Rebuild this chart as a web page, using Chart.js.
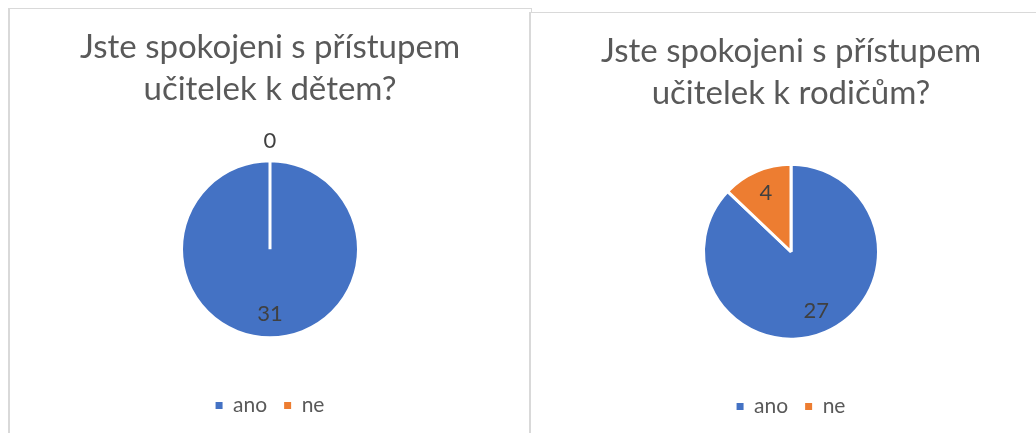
<!DOCTYPE html>
<html lang="cs">
<head>
<meta charset="utf-8">
<script src="https://cdn.jsdelivr.net/npm/chart.js@4.4.1/dist/chart.umd.min.js"></script>
<style>
  html, body { margin: 0; padding: 0; background: #fff; width: 1036px; height: 433px; overflow: hidden; }
  .panel { position: absolute; width: 524px; height: 440px; border: 1px solid #d9d9d9; border-left-width: 2px; background: #fff; box-sizing: border-box; }
  #panel1 { left: 8px; top: 8px; }
  #panel2 { left: 529px; top: 12px; }
  .panel canvas { position: absolute; left: 0; top: 0; }
</style>
</head>
<body>
<div class="panel" id="panel1"><canvas id="myChart1" width="520" height="417"></canvas></div>
<div class="panel" id="panel2"><canvas id="myChart2" width="520" height="414"></canvas></div>
<script>
const kategorie = ["ano", "ne"];
const hodnotyDeti = [31, 0];
const hodnotyRodice = [27, 4];
const barvy = ["#4472C4", "#ED7D31"];
const titulekDeti = ["Jste spokojeni s přístupem", "učitelek k dětem?"];
const titulekRodice = ["Jste spokojeni s přístupem", "učitelek k rodičům?"];

// Popisky hodnot (jako datalabels v Excelu)
const popiskyPlugin = {
  id: "popisky",
  afterDatasetsDraw(chart) {
    const ctx = chart.ctx;
    const meta = chart.getDatasetMeta(0);
    const data = chart.data.datasets[0].data;
    ctx.save();
    ctx.font = "22px Lato";
    ctx.fillStyle = "#404040";
    ctx.textAlign = "center";
    ctx.textBaseline = "middle";
    meta.data.forEach((arc, i) => {
      const p = arc.getProps(["x", "y", "startAngle", "endAngle", "outerRadius"], true);
      const stred = (p.startAngle + p.endAngle) / 2;
      // nulova hodnota jde ven z kolace
      const r = data[i] === 0 ? p.outerRadius + 20 : p.outerRadius * 0.73;
      ctx.fillText(String(data[i]), p.x + Math.cos(stred) * r, p.y + Math.sin(stred) * r);
    });
    ctx.restore();
  },
};

function Graf(idCanvas, titulek, hodnoty, polomer) {
  const ctx = document.getElementById(idCanvas);
  return new Chart(ctx, {
    type: "pie",
    data: {
      labels: kategorie,
      datasets: [
        {
          data: hodnoty,
          backgroundColor: barvy,
          borderColor: "#ffffff",
          borderWidth: 3,
          radius: polomer,
          hoverOffset: 0,
        },
      ],
    },
    options: {
      responsive: false,
      animation: false,
      layout: { padding: 0 },
      plugins: {
        title: {
          display: true,
          text: titulek,
          color: "#595959",
          font: { family: "Lato", size: 33, weight: "normal", lineHeight: 1.28 },
          padding: { top: 17, bottom: 10 },
        },
        legend: {
          position: "bottom",
          labels: {
            color: "#595959",
            font: { family: "Lato", size: 21 },
            boxWidth: 7,
            boxHeight: 7,
            padding: 17,
            generateLabels(chart) {
              const polozky = Chart.overrides.doughnut.plugins.legend.labels.generateLabels(chart);
              polozky.forEach((p) => { p.lineWidth = 0; });
              return polozky;
            },
          },
        },
        tooltip: { enabled: false },
      },
    },
    plugins: [popiskyPlugin],
  });
}

Graf("myChart1", titulekDeti, hodnotyDeti, 88.5);
Graf("myChart2", titulekRodice, hodnotyRodice, 87.5);
</script>
</body>
</html>
